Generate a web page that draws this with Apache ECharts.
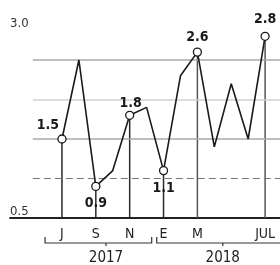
<!DOCTYPE html>
<html>
<head>
<meta charset="utf-8">
<script src="https://cdn.jsdelivr.net/npm/echarts@6/dist/echarts.min.js"></script>
<style>
  html, body { margin: 0; padding: 0; background: #fff; }
  #chart { width: 280px; height: 265px; }
</style>
</head>
<body>
<div id="chart"></div>
<script>
// months counted from Jul 2017 (0) to Jul 2018 (12)
const months = [0, 1, 2, 3, 4, 5, 6, 7, 8, 9, 10, 11, 12]
const values = [1.5, 2.5, 0.9, 1.1, 1.8, 1.9, 1.1, 2.3, 2.6, 1.4, 2.2, 1.5, 2.8]

// months that carry a marker, a value label and a drop line
const marked = [0, 2, 4, 6, 8, 12]
const markedLabelPos = ['top', 'bottom', 'top', 'bottom', 'top', 'top']

const tickMonths = [0, 2, 4, 6, 8, 12]
const tickLabels = ['J', 'S', 'N', 'E', 'M', 'JUL']

const yTicks = [0.5, 3.0]
const gridLevels = [1.0, 1.5, 2.0, 2.5]

const yearNames = ['2017', '2018']
const yearStart = [-1.0, 5.6]
const yearEnd = [5.3, 13.6]
const yearMid = [2.6, 9.5]

const FONT = "'Liberation Sans Narrow', 'DejaVu Sans Condensed', sans-serif"
const labelOffsets = {
  0: [-14, 3],
  2: [0, 0],
  4: [1, 5],
  6: [0, 1],
  8: [0, 2],
  12: [0, 0],
}

const chart = echarts.init(document.getElementById('chart'), null, { renderer: 'canvas' })

const X_MIN = -3.07
const X_MAX = 12.88

const lineData = months.map((m, i) => {
  const k = marked.indexOf(m)
  if (k < 0) return [m, values[i]]
  return {
    value: [m, values[i]],
    label: {
      show: true,
      position: markedLabelPos[k],
      offset: labelOffsets[m],
      formatter: values[i].toFixed(1),
    },
  }
})

const dropData = marked.map((m, k) => ({
  value: [m, values[months.indexOf(m)]],
  itemStyle: { color: k >= 4 ? '#555' : '#2a2a2a' },
}))

const gridStyles = {
  1.0: { color: '#777', width: 1, type: [7, 4] },
  1.5: { color: '#aaa', width: 1.5, type: 'solid' },
  2.0: { color: '#d0d0d0', width: 1.5, type: 'solid' },
  2.5: { color: '#aaa', width: 1.5, type: 'solid' },
}

const option = {
  animation: false,
  backgroundColor: '#fff',
  grid: { left: 10, right: 0, top: 20.5, bottom: 47 },
  xAxis: {
    type: 'value',
    min: X_MIN,
    max: X_MAX,
    splitLine: { show: false },
    axisTick: { show: false },
    axisLine: { show: true, onZero: false, lineStyle: { color: '#222', width: 1.8 } },
    axisLabel: {
      customValues: tickMonths,
      margin: 9,
      fontFamily: FONT,
      fontSize: 14,
      color: '#222',
      formatter: (v) => tickLabels[tickMonths.indexOf(Math.round(v))] || '',
    },
  },
  yAxis: {
    type: 'value',
    min: 0.5,
    max: 3.0,
    splitLine: { show: false },
    axisTick: { show: false },
    axisLine: { show: false },
    axisLabel: {
      customValues: yTicks,
      inside: true,
      margin: 0,
      align: 'left',
      fontFamily: FONT,
      fontSize: 13,
      color: '#333',
      formatter: (v) => (v > 1 ? '{hi|' : '{lo|') + v.toFixed(1) + '}',
      rich: {
        hi: { fontFamily: FONT, fontSize: 13, color: '#333', padding: [6, 0, 0, 0] },
        lo: { fontFamily: FONT, fontSize: 13, color: '#333', padding: [0, 0, 12, 0] },
      },
    },
  },
  series: [
    {
      type: 'bar',
      data: dropData,
      barWidth: 1.5,
      silent: true,
      markLine: {
        silent: true,
        symbol: ['none', 'none'],
        label: { show: false },
        data: gridLevels.map((lv) => [
          { coord: [-1.72, lv], lineStyle: gridStyles[lv] },
          { coord: [X_MAX, lv] },
        ]),
      },
    },
    {
      type: 'line',
      data: lineData,
      z: 5,
      symbol: 'circle',
      symbolSize: (v) => (marked.indexOf(v[0]) >= 0 ? 8 : 0),
      showAllSymbol: true,
      lineStyle: { color: '#1a1a1a', width: 1.6 },
      itemStyle: { color: '#fff', borderColor: '#1a1a1a', borderWidth: 1.3 },
      label: {
        show: false,
        fontFamily: FONT,
        fontWeight: 'bold',
        fontSize: 14,
        color: '#1a1a1a',
      },
    },
    {
      type: 'custom',
      clip: false,
      silent: true,
      data: yearNames.map((n, i) => [yearStart[i], yearEnd[i], yearMid[i], 0.5]),
      encode: { x: [0, 1, 2], y: 3 },
      renderItem: (params, api) => {
        const a = api.coord([api.value(0), api.value(3)])
        const b = api.coord([api.value(1), api.value(3)])
        const c = api.coord([api.value(2), api.value(3)])
        const y = a[1] + 25
        const style = { stroke: '#333', lineWidth: 1.2, fill: null }
        return {
          type: 'group',
          children: [
            {
              type: 'polyline',
              shape: { points: [[a[0], y - 6], [a[0], y], [b[0], y], [b[0], y - 6]] },
              style,
            },
            { type: 'line', shape: { x1: c[0], y1: y, x2: c[0], y2: y + 3 }, style },
            {
              type: 'text',
              x: c[0],
              y: y + 15,
              style: {
                text: yearNames[params.dataIndex],
                fontFamily: FONT,
                fontSize: 15,
                fill: '#222',
                align: 'center',
                verticalAlign: 'middle',
              },
            },
          ],
        }
      },
    },
  ],
}

chart.setOption(option)
</script>
</body>
</html>
